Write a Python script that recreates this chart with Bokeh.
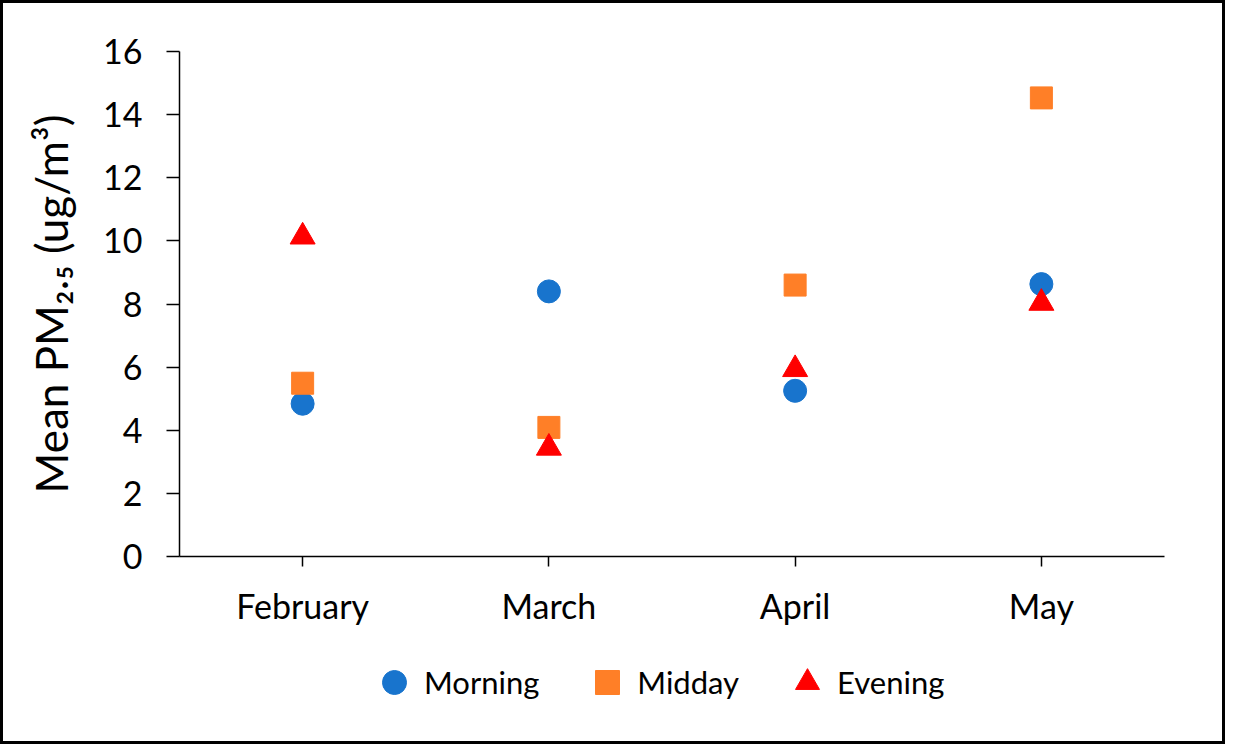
from bokeh.plotting import figure
from bokeh.layouts import column
from bokeh.models import Legend, LegendItem, FactorRange, Range1d, FixedTicker
from bokeh.embed import file_html
from bokeh.resources import INLINE

months = ["February", "March", "April", "May"]
morning = [4.84, 8.40, 5.25, 8.63]
midday = [5.49, 4.09, 8.60, 14.53]
evening = [10.13, 3.44, 5.93, 8.03]
y_ticks = [0, 2, 4, 6, 8, 10, 12, 14, 16]
series_names = ["Morning", "Midday", "Evening"]
series_markers = ["circle", "square", "triangle"]
series_colors = ["#1874CD", "#FF7F27", "#FF0000"]
series_sizes = [23, 22, 25]

FONT = "Lato"
BORDER = "3px solid black"

p = figure(width=1225, height=650,
           x_range=FactorRange(*months, range_padding=0),
           y_range=Range1d(0, 16),
           output_backend="svg", toolbar_location=None,
           min_border_left=176, min_border_right=64,
           min_border_top=48, min_border_bottom=97)
p.styles = {"border-top": BORDER, "border-left": BORDER, "border-right": BORDER}
p.outline_line_color = None
p.xgrid.visible = False
p.ygrid.visible = False

for vals, mk, col, sz in zip([morning, midday, evening], series_markers, series_colors, series_sizes):
    p.scatter(months, vals, marker=mk, size=sz, color=col)

for ax in (p.xaxis[0], p.yaxis[0]):
    ax.axis_line_color = "black"
    ax.axis_line_width = 1.5
    ax.major_tick_line_color = "black"
    ax.major_tick_line_width = 1.5
    ax.minor_tick_line_color = None
    ax.major_tick_in = 0
    ax.major_label_text_font = FONT
    ax.major_label_text_color = "black"

p.yaxis.ticker = FixedTicker(ticks=y_ticks)
p.yaxis.major_tick_out = 13
p.yaxis.major_label_standoff = 24
p.yaxis.major_label_text_font_size = "34px"
p.yaxis.axis_label = "Mean PM\u2082.\u2085 (ug/m\u00b3)"
p.yaxis.axis_label_text_font = FONT
p.yaxis.axis_label_text_font_style = "normal"
p.yaxis.axis_label_text_font_size = "44px"
p.yaxis.axis_label_text_color = "black"
p.yaxis.axis_label_standoff = 23

p.xaxis.major_tick_out = 10
p.xaxis.major_label_standoff = 18
p.xaxis.major_label_text_font_size = "34px"

# legend strip below the chart
q = figure(width=1225, height=94, x_range=Range1d(0, 1), y_range=Range1d(0, 1),
           output_backend="svg", toolbar_location=None,
           x_axis_type=None, y_axis_type=None,
           min_border_left=0, min_border_right=0, min_border_top=0, min_border_bottom=0)
q.styles = {"border-bottom": BORDER, "border-left": BORDER, "border-right": BORDER}
q.outline_line_color = None
q.xgrid.visible = False
q.ygrid.visible = False

items = []
for name, mk, col in zip(series_names, series_markers, series_colors):
    r = q.scatter(x=[float("nan")], y=[float("nan")], marker=mk, color=col)
    items.append(LegendItem(label=name, renderers=[r]))

legend = Legend(items=items, orientation="horizontal", location=(185, 32),
                label_text_font=FONT, label_text_font_size="31px",
                label_text_color="black",
                glyph_width=60, glyph_height=60, label_standoff=0,
                spacing=38, border_line_color=None, background_fill_alpha=0,
                margin=0, padding=0)
q.add_layout(legend, "center")

layout = column(p, q, spacing=0)
open("out.html", "w").write(file_html(layout, INLINE))
